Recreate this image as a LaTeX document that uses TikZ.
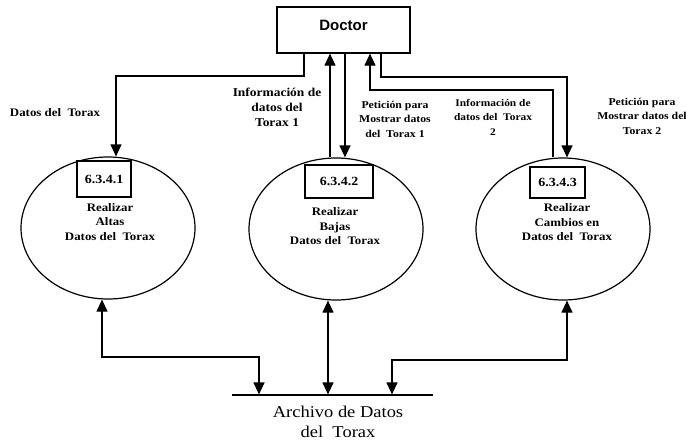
\documentclass[tikz,border=0pt]{standalone}
\usepackage{fontspec}
\setmainfont{Liberation Serif}
\newfontfamily\docfont{Liberation Sans}
\newfontfamily\lblfont{Liberation Serif}[FakeStretch=1.12]
\usetikzlibrary{arrows.meta,shapes.geometric}

\begin{document}
\begin{tikzpicture}[x=1pt,y=-1pt,
  line width=1.2pt,
  tip/.tip={Triangle[length=12pt,width=11pt]},
  flow/.style={-tip},
  both/.style={tip-tip},
  proc/.style={draw, ellipse, inner sep=0pt, minimum width=174pt, minimum height=142pt},
  idbox/.style={draw, rectangle, inner sep=0pt, font=\lblfont\bfseries\fontsize{12.5}{14}\selectfont},
  ptext/.style={align=center, inner sep=0pt, font=\lblfont\bfseries\fontsize{11.5}{14.5}\selectfont},
  flabel/.style={align=center, inner sep=0pt, font=\lblfont\bfseries\fontsize{10.5}{14.5}\selectfont},
]
\useasboundingbox (0,0) rectangle (686,440);

% external entity
\node[draw, minimum width=133pt, minimum height=46pt, inner sep=0pt,
      text height=10pt, text depth=10pt,
      font=\docfont\bfseries\fontsize{15}{17}\selectfont] (doc) at (343.5,30) {Doctor};

% processes
\node[proc] (e1) at (108,228) {};
\node[proc] (e2) at (336,229) {};
\node[proc] (e3) at (563,229) {};

\node[idbox, minimum width=54pt, minimum height=36pt] (b1) at (104,179) {6.3.4.1};
\node[idbox, minimum width=68pt, minimum height=33pt] (b2) at (339,181.5) {6.3.4.2};
\node[idbox, minimum width=55pt, minimum height=31pt] (b3) at (557.5,182.5) {6.3.4.3};

\node[ptext] (t1) at (110,222) {Realizar\\Altas\\Datos del\ \ Torax};
\node[ptext] (t2) at (335,226.5) {Realizar\\Bajas\\Datos del\ \ Torax};
\node[ptext] (t3) at (567,222.5) {Realizar\\Cambios en\\Datos del\ \ Torax};

% data store
\node[inner sep=0pt, minimum width=199pt, minimum height=0pt] (ds) at (332.5,395) {};
\draw (ds.west) -- (ds.east);
\node[align=center, inner sep=0pt, font=\lblfont\fontsize{16.5}{20}\selectfont] (dst) at (338,422)
  {Archivo de Datos\\del\ \ Torax};

% bend points of the flows
\coordinate (k1) at (304,76);
\coordinate (k2) at (116,76);
\coordinate (k3) at (330,0);
\coordinate (k4) at (345,0);
\coordinate (k5) at (553,90);
\coordinate (k6) at (370,90);
\coordinate (k7) at (381,77);
\coordinate (k8) at (567,77);
\coordinate (g1) at (102,357);
\coordinate (g2) at (259,357);
\coordinate (g3) at (328,0);
\coordinate (g4) at (567,360);
\coordinate (g5) at (392,360);

% flows between Doctor and the processes
\draw[flow] (doc.south -| k1) -- (k1) -- (k2) -- (k2 |- e1.north);
\draw[flow] (k3 |- e2.north) -- (k3 |- doc.south);
\draw[flow] (k4 |- doc.south) -- (k4 |- e2.north);
\draw[flow] (k5 |- e3.north) -- (k5) -- (k6) -- (k6 |- doc.south);
\draw[flow] (k7 |- doc.south) -- (k7) -- (k8) -- (k8 |- e3.north);

% flows between the processes and the store
\draw[both] (g1 |- e1.south) -- (g1) -- (g2) -- (g2 |- ds.north);
\draw[both] (g3 |- e2.south) -- (g3 |- ds.north);
\draw[both] (g4 |- e3.south) -- (g4) -- (g5) -- (g5 |- ds.north);

% flow labels
\node[flabel, font=\lblfont\bfseries\fontsize{11.5}{14.5}\selectfont] (l1) at (55,113) {Datos del\ \ Torax};
\node[flabel, font=\lblfont\bfseries\fontsize{12}{15}\selectfont] (l2) at (277,107) {Información de\\datos del\\Torax 1};
\node[flabel] (l3) at (395,119) {Petición para\\Mostrar datos\\del\ \ Torax 1};
\node[flabel, font=\lblfont\bfseries\fontsize{10.2}{14.5}\selectfont] (l4) at (493,117) {Información de\\datos del\ \ Torax\\2};
\node[flabel] (l5) at (642,116) {Petición para\\Mostrar datos del\\Torax 2};
\end{tikzpicture}
\end{document}
